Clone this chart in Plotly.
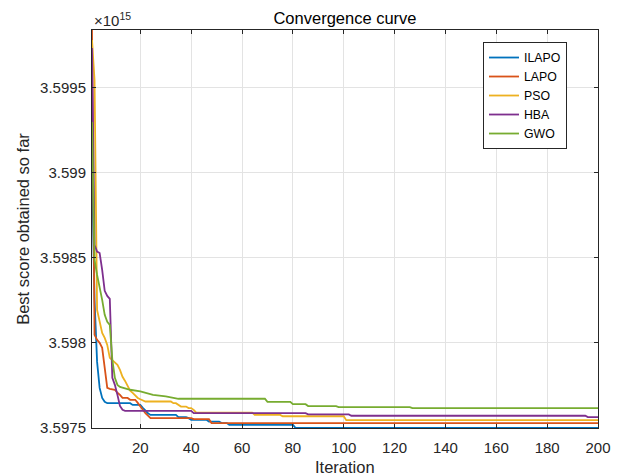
import plotly.graph_objects as go

# Best score values in units of 1e15 (axis exponent shown as x10^15)
ilapo_iter = [1, 2, 3, 4, 5, 6, 7, 16, 17, 20, 21, 22, 23, 24, 34, 35, 38, 39, 40, 46, 47, 51, 52, 54, 55, 80, 81, 200]
ilapo_val = [3.599035, 3.598253, 3.597888, 3.597735, 3.597676, 3.597653, 3.597645, 3.597645, 3.597635, 3.597635,
             3.597618, 3.597600, 3.597586, 3.597576, 3.597576, 3.597563, 3.597563, 3.597557, 3.597547, 3.597547,
             3.597537, 3.597537, 3.597528, 3.597528, 3.597518, 3.597518, 3.597500, 3.597500]

lapo_iter = [1, 2, 3, 4, 5, 6, 7, 8, 10, 11, 12, 13, 15, 16, 18, 19, 20, 21, 22, 23, 24, 40, 41, 47, 48, 200]
lapo_val = [3.599841, 3.598047, 3.598018, 3.598000, 3.597971, 3.597841, 3.597735, 3.597729, 3.597724, 3.597706,
            3.597694, 3.597676, 3.597676, 3.597665, 3.597665, 3.597647, 3.597629, 3.597606, 3.597586, 3.597571,
            3.597557, 3.597557, 3.597551, 3.597551, 3.597528, 3.597528]

pso_iter = [1, 2, 3, 4, 5, 6, 7, 8, 9, 10, 11, 12, 13, 14, 15, 16, 17, 18, 19, 20, 21, 22, 32, 33, 34, 35, 36, 38,
            39, 40, 41, 42, 64, 65, 75, 76, 100, 101, 200]
pso_val = [3.599782, 3.599547, 3.598194, 3.598118, 3.598059, 3.598029, 3.597988, 3.597912, 3.597900, 3.597888,
           3.597871, 3.597841, 3.597800, 3.597776, 3.597747, 3.597718, 3.597706, 3.597688, 3.597676, 3.597668,
           3.597662, 3.597655, 3.597655, 3.597645, 3.597645, 3.597635, 3.597625, 3.597625, 3.597616, 3.597616,
           3.597606, 3.597590, 3.597590, 3.597576, 3.597576, 3.597568, 3.597568, 3.597545, 3.597545]

hba_iter = [1, 2, 3, 4, 5, 6, 7, 8, 9, 10, 11, 12, 13, 14, 40, 41, 85, 86, 102, 103, 195, 196, 200]
hba_val = [3.599735, 3.598576, 3.598537, 3.598529, 3.598429, 3.598306, 3.598276, 3.598259, 3.597794, 3.597753,
           3.597694, 3.597629, 3.597606, 3.597600, 3.597600, 3.597586, 3.597586, 3.597579, 3.597579, 3.597571,
           3.597571, 3.597563, 3.597563]

gwo_iter = [1, 2, 3, 4, 5, 6, 7, 8, 9, 10, 11, 12, 16, 20, 23, 25, 30, 34, 35, 69, 70, 79, 80, 85, 86, 97, 98,
            126, 127, 200]
gwo_val = [3.599300, 3.598488, 3.598400, 3.598329, 3.598253, 3.598165, 3.598124, 3.598106, 3.597900, 3.597794,
           3.597753, 3.597741, 3.597724, 3.597714, 3.597703, 3.597694, 3.597685, 3.597674, 3.597671, 3.597671,
           3.597653, 3.597653, 3.597639, 3.597639, 3.597628, 3.597628, 3.597622, 3.597622, 3.597616, 3.597616]

series_names = ["ILAPO", "LAPO", "PSO", "HBA", "GWO"]
series_colors = ["#0072BD", "#D95319", "#EDB120", "#7E2F8E", "#77AC30"]
series_x = [ilapo_iter, lapo_iter, pso_iter, hba_iter, gwo_iter]
series_y = [ilapo_val, lapo_val, pso_val, hba_val, gwo_val]

x_ticks = [20, 40, 60, 80, 100, 120, 140, 160, 180, 200]
y_ticks = [3.5975, 3.598, 3.5985, 3.599, 3.5995]
y_tick_text = ["3.5975", "3.598", "3.5985", "3.599", "3.5995"]

FONT = "Liberation Sans, Arial, Helvetica, sans-serif"
AX = "#262626"

fig = go.Figure()
for name, color, xs, ys in zip(series_names, series_colors, series_x, series_y):
    fig.add_trace(go.Scatter(x=xs, y=ys, mode="lines", name=name,
                             line=dict(color=color, width=1.8)))

fig.update_layout(
    width=624, height=475,
    margin=dict(l=92, r=26, t=30, b=47),
    paper_bgcolor="white", plot_bgcolor="white",
    font=dict(family=FONT, color=AX, size=15),
    title=dict(text="Convergence curve", x=0.5, xref="paper", xanchor="center",
               y=1 - 18.5 / 475, yref="container", yanchor="middle",
               font=dict(family=FONT, size=16.5, color="#000000")),
    showlegend=True,
    legend=dict(x=0.7727, y=0.9698, xanchor="left", yanchor="top",
                bgcolor="white", bordercolor=AX, borderwidth=1,
                font=dict(family=FONT, size=12.3, color="#000000"),
                tracegroupgap=0),
)

fig.update_xaxes(
    range=[1, 200], tickvals=x_ticks, ticks="inside", ticklen=4, tickcolor=AX,
    showline=True, linecolor=AX, linewidth=1, mirror="ticks",
    showgrid=True, gridcolor="#e3e3e3", gridwidth=1, zeroline=False,
    tickfont=dict(family=FONT, size=15, color=AX), ticklabelstandoff=6,
)
fig.update_yaxes(
    range=[3.597499, 3.599841], tickvals=y_ticks, ticktext=y_tick_text,
    ticks="inside", ticklen=4, tickcolor=AX,
    showline=True, linecolor=AX, linewidth=1, mirror="ticks",
    showgrid=True, gridcolor="#e3e3e3", gridwidth=1, zeroline=False,
    tickfont=dict(family=FONT, size=15, color=AX), ticklabelstandoff=2,
    title=dict(text="Best score obtained so far", font=dict(family=FONT, size=16.5, color=AX), standoff=6),
)

# x-axis title placed as a paper annotation to sit where the reference puts it
fig.add_annotation(text="Iteration", xref="paper", yref="paper", x=0.5, y=-0.098,
                   xanchor="center", yanchor="middle", showarrow=False,
                   font=dict(family=FONT, size=16.5, color=AX))

fig.add_annotation(text="×10<sup>15</sup>", xref="paper", yref="paper", x=0, y=1,
                   xanchor="left", yanchor="bottom", showarrow=False, yshift=-1,
                   font=dict(family=FONT, size=15, color=AX))

fig.write_html("out.html")
